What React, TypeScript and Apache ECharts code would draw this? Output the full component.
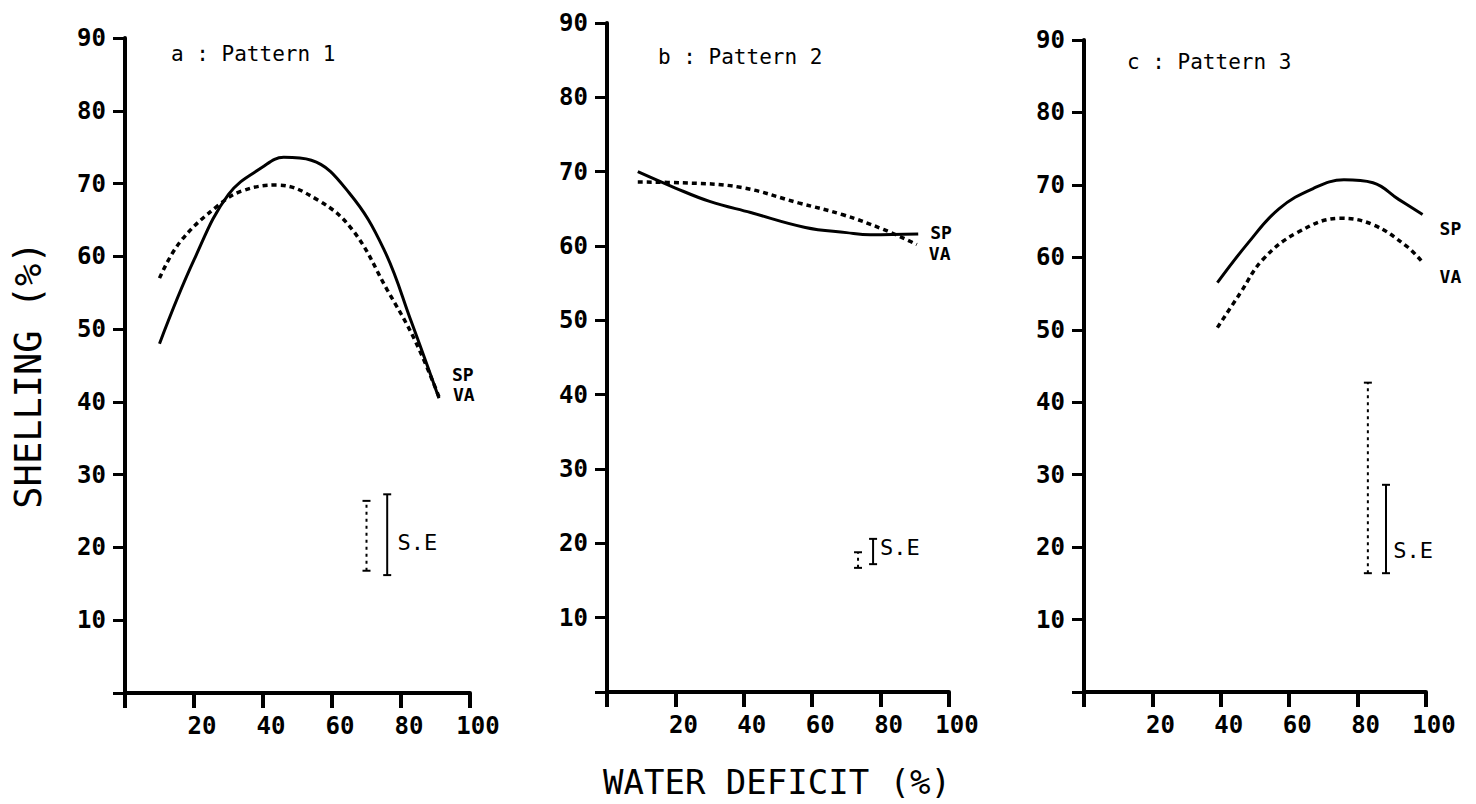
import React, { useEffect, useRef } from 'react';
import * as echarts from 'echarts';

// ---------- data ----------
const xTicks = [20, 40, 60, 80, 100];
const yTicks = [10, 20, 30, 40, 50, 60, 70, 80, 90];

// Pattern 1
const spA = [[10, 48], [20, 59.5], [30, 68.5], [40, 72.3], [46, 73.6], [54, 73.2], [65, 68.7], [75, 61], [83, 51], [91, 40.5]];
const vaA = [[10, 57], [16, 62], [27, 67], [34, 69], [44, 69.8], [56, 67.7], [66, 63.6], [76, 55.4], [84, 48.5], [91, 40.7]];
// Pattern 2
const spB = [[9, 70], [20, 67.8], [30, 66], [42, 64.5], [58, 62.5], [70, 61.8], [77, 61.5], [91, 61.6]];
const vaB = [[9, 68.6], [22, 68.5], [39, 67.9], [56, 65.8], [69, 64.2], [81, 62.2], [90.6, 60.2]];
// Pattern 3
const spC = [[39, 56.5], [48, 62], [57, 66.7], [67, 69.5], [76, 70.7], [84.5, 70.3], [92, 68], [99, 65.9]];
const vaC = [[39, 50.3], [45.6, 55], [52.3, 59.7], [62.3, 63.4], [75, 65.4], [84.5, 64.5], [94.4, 61.5], [99, 59.3]];

// S.E bars: [x, low, high, dotted(1)/solid(0)]
const seA = [[70, 16.8, 26.4, 1], [76, 16.2, 27.3, 0]];
const seB = [[73.4, 16.7, 18.8, 1], [77.8, 17.2, 20.6, 0]];
const seC = [[83, 16.4, 42.7, 1], [88.3, 16.4, 28.6, 0]];
// S.E label anchors [x, y]
const seLabA = [[79, 20.7]];
const seLabB = [[79.8, 19.5]];
const seLabC = [[90.4, 19.5]];

const panelTitles = ['a : Pattern 1', 'b : Pattern 2', 'c : Pattern 3'];
const seriesNames = ['SP', 'VA'];
const xTitle = 'WATER DEFICIT (%)';
const yTitle = 'SHELLING (%)';

// ---------- styling ----------
const MONO = '"DejaVu Sans Mono", monospace';
const grids = [
  { left: 125, right: 1006, top: 38, bottom: 111 },
  { left: 607, right: 527, top: 23, bottom: 112 },
  { left: 1084, right: 50, top: 40, bottom: 112 },
];
// end label offsets [SP, VA] per panel: [distance, dy]
const endOffsets = [
  [[13, -24], [14, -2]],
  [[12, -2], [12, 9]],
  [[17, 14], [17, 14]],
];
const titlePos = [[171, 54], [658, 57], [1127, 62]];

export default function App() {
  const ref = useRef<HTMLDivElement>(null);
  useEffect(() => {
    if (!ref.current) return;
    const chart = echarts.init(ref.current, null, { renderer: 'svg' });
    const spData = [spA, spB, spC];
    const vaData = [vaA, vaB, vaC];
    const seData = [seA, seB, seC];
    const seLab = [seLabA, seLabB, seLabC];

    const xAxis: any[] = [];
    const yAxis: any[] = [];
    const series: any[] = [];
    for (let i = 0; i < 3; i++) {
      xAxis.push({
        type: 'value', gridIndex: i, min: 0, max: 100, interval: 20,
        splitLine: { show: false },
        axisLine: { show: true, onZero: false, lineStyle: { color: '#000', width: 4 } },
        axisTick: { show: true, inside: false, length: 15, lineStyle: { color: '#000', width: 4 } },
        axisLabel: {
          customValues: xTicks, color: '#000', fontFamily: MONO, fontWeight: 'bold', fontSize: 24,
          margin: 21, align: 'center', padding: [0, 0, 0, 16],
        },
      });
      yAxis.push({
        type: 'value', gridIndex: i, min: 0, max: 90, interval: 10,
        splitLine: { show: false },
        axisLine: { show: true, onZero: false, lineStyle: { color: '#000', width: 4 } },
        axisTick: { show: true, inside: false, length: 12, lineStyle: { color: '#000', width: 3 } },
        axisLabel: {
          customValues: yTicks, color: '#000', fontFamily: MONO, fontWeight: 'bold', fontSize: 24, margin: 19,
        },
      });
      series.push({
        type: 'line', name: seriesNames[0], xAxisIndex: i, yAxisIndex: i, data: spData[i],
        smooth: 0.4, showSymbol: false, symbol: 'none',
        lineStyle: { color: '#000', width: 3 },
        endLabel: {
          show: true, formatter: seriesNames[0], color: '#000', fontFamily: MONO, fontWeight: 'bold', fontSize: 18,
          distance: endOffsets[i][0][0], offset: [0, endOffsets[i][0][1]],
        },
      });
      series.push({
        type: 'line', name: seriesNames[1], xAxisIndex: i, yAxisIndex: i, data: vaData[i],
        smooth: 0.4, showSymbol: false, symbol: 'none',
        lineStyle: { color: '#000', width: 3.5, type: [5, 4] },
        endLabel: {
          show: true, formatter: seriesNames[1], color: '#000', fontFamily: MONO, fontWeight: 'bold', fontSize: 18,
          distance: endOffsets[i][1][0], offset: [0, endOffsets[i][1][1]],
        },
      });
      series.push({
        type: 'custom', xAxisIndex: i, yAxisIndex: i, data: seData[i],
        renderItem: (params: any, api: any) => {
          const x = api.value(0), lo = api.value(1), hi = api.value(2), dotted = api.value(3);
          const pl = api.coord([x, lo]);
          const ph = api.coord([x, hi]);
          const capStyle = { stroke: '#000', lineWidth: 2 };
          return {
            type: 'group',
            children: [
              { type: 'line', shape: { x1: pl[0], y1: pl[1], x2: ph[0], y2: ph[1] },
                style: { stroke: '#000', lineWidth: 2, lineDash: dotted ? [3, 4] : null } },
              { type: 'line', shape: { x1: pl[0] - 4, y1: pl[1], x2: pl[0] + 4, y2: pl[1] }, style: capStyle },
              { type: 'line', shape: { x1: ph[0] - 4, y1: ph[1], x2: ph[0] + 4, y2: ph[1] }, style: capStyle },
            ],
          };
        },
      });
      series.push({
        type: 'custom', xAxisIndex: i, yAxisIndex: i, data: seLab[i],
        renderItem: (params: any, api: any) => {
          const p = api.coord([api.value(0), api.value(1)]);
          return {
            type: 'text', x: p[0], y: p[1],
            style: { text: 'S.E', fill: '#000', fontFamily: MONO, fontSize: 22, align: 'left', verticalAlign: 'middle' },
          };
        },
      });
    }

    const graphic: any[] = panelTitles.map((t, i) => ({
      type: 'text', x: titlePos[i][0], y: titlePos[i][1],
      style: { text: t, fill: '#000', fontFamily: MONO, fontSize: 21, align: 'left', verticalAlign: 'middle' },
    }));
    graphic.push({
      type: 'text', x: 777, y: 782,
      style: { text: xTitle, fill: '#000', fontFamily: MONO, fontSize: 34, align: 'center', verticalAlign: 'middle' },
    });
    graphic.push({
      type: 'text', x: 28, y: 375, rotation: Math.PI / 2,
      style: { text: yTitle, fill: '#000', fontFamily: MONO, fontSize: 37, align: 'center', verticalAlign: 'middle' },
    });

    chart.setOption({
      animation: false,
      backgroundColor: '#fff',
      grid: grids,
      xAxis, yAxis, series, graphic,
    });
    return () => chart.dispose();
  }, []);
  return <div ref={ref} style={{ position: 'fixed', left: 0, top: 0, width: 1476, height: 804 }} />;
}
